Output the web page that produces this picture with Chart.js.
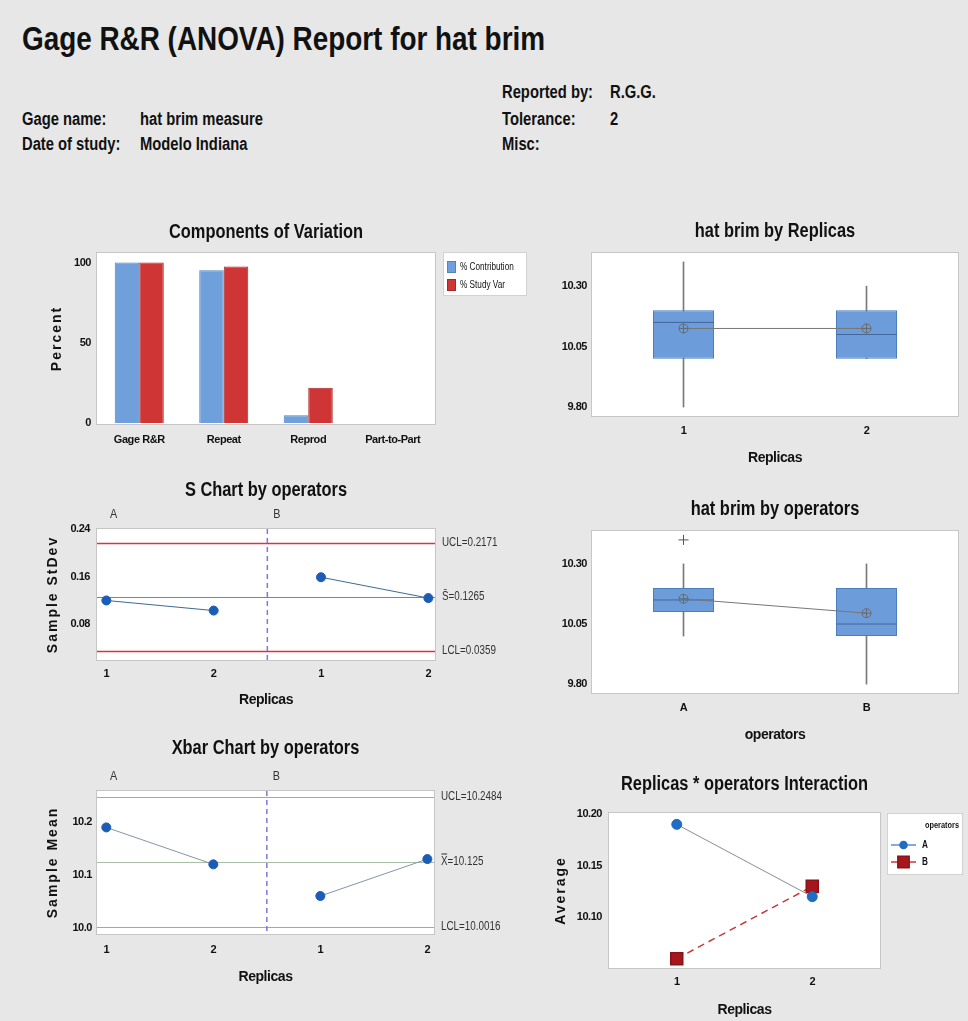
<!DOCTYPE html>
<html>
<head>
<meta charset="utf-8">
<script src="https://cdn.jsdelivr.net/npm/chart.js@4.4.1/dist/chart.umd.min.js"></script>
<style>
  html, body { margin: 0; padding: 0; }
  body {
    width: 968px; height: 1021px; position: relative; overflow: hidden;
    background: #e7e7e7; color: #111;
    font-family: "Liberation Sans", Arial, sans-serif;
  }
  h1, .hd { transform: scaleX(0.82); transform-origin: 0 0; }
  h1 {
    position: absolute; left: 22px; top: 21px; margin: 0;
    font-size: 34px; line-height: 34px; font-weight: bold; white-space: nowrap;
  }
  .hd { position: absolute; font-size: 18px; line-height: 18px; font-weight: bold; white-space: nowrap; }
  canvas { position: absolute; }
</style>
</head>
<body>
<h1>Gage R&amp;R (ANOVA) Report for hat brim</h1>
<div class="hd" style="left:22px;top:110px">Gage name:</div>
<div class="hd" style="left:140px;top:110px">hat brim measure</div>
<div class="hd" style="left:22px;top:135px">Date of study:</div>
<div class="hd" style="left:140px;top:135px">Modelo Indiana</div>
<div class="hd" style="left:502px;top:83px">Reported by:</div>
<div class="hd" style="left:610px;top:83px">R.G.G.</div>
<div class="hd" style="left:502px;top:110px">Tolerance:</div>
<div class="hd" style="left:610px;top:110px">2</div>
<div class="hd" style="left:502px;top:135px">Misc:</div>

<script>
// ---- Components of variation ----
const components = ['Gage R&R', 'Repeat', 'Reprod', 'Part-to-Part'];
const pctContribution = [100, 95.2, 4.8, 0];
const pctStudyVar = [100, 97.6, 21.9, 0];
const percentTicks = [0, 50, 100];

// ---- hat brim by Replicas (box summaries) ----
const replicas = ['1', '2'];
const replicaQ1 = [10.00, 10.00];
const replicaQ3 = [10.20, 10.20];
const replicaMedian = [10.15, 10.10];
const replicaMean = [10.125, 10.125];
const replicaMin = [9.80, 10.00];
const replicaMax = [10.40, 10.30];
const replicaOutliers = [null, null];

// ---- hat brim by operators (box summaries) ----
const operators = ['A', 'B'];
const operatorQ1 = [10.10, 10.00];
const operatorQ3 = [10.20, 10.20];
const operatorMedian = [10.15, 10.05];
const operatorMean = [10.155, 10.095];
const operatorMin = [10.00, 9.80];
const operatorMax = [10.30, 10.30];
const operatorOutliers = [10.40, null];
const hatBrimTicks = [9.80, 10.05, 10.30];

// ---- S and Xbar charts by operators ----
const sampleOperator = ['A', 'A', 'B', 'B'];
const sampleReplica = ['1', '2', '1', '2'];
const sampleStDev = [0.120, 0.103, 0.159, 0.124];
const sampleMean = [10.19, 10.12, 10.06, 10.13];
const sUCL = 0.2171, sCenter = 0.1265, sLCL = 0.0359;
const xUCL = 10.2484, xCenter = 10.125, xLCL = 10.0016;
const stdevTicks = [0.08, 0.16, 0.24];
const meanTicks = [10.0, 10.1, 10.2];

// ---- Replicas * operators interaction ----
const interactionA = [10.19, 10.12];
const interactionB = [10.06, 10.13];
const averageTicks = [10.10, 10.15, 10.20];

// ------------------------------------------------------------------
const FONT = '"Liberation Sans", Arial, sans-serif';
const SQUEEZE = 0.82;                       // horizontal squeeze for a narrow look
const TICK_FONT = { family: FONT, size: 11, weight: 'bold' };
const AXIS_FONT = { family: FONT, size: 14, weight: 'bold' };

Chart.defaults.font.family = FONT;
Chart.defaults.color = '#111';
Chart.defaults.animation = false;
Chart.defaults.events = [];
Chart.defaults.plugins.legend.display = false;
Chart.defaults.plugins.tooltip.enabled = false;

function narrowText(ctx, text, x, y, sx) {
  ctx.save();
  ctx.translate(x, y);
  ctx.scale(sx, 1);
  ctx.fillText(text, 0, 0);
  ctx.restore();
}

// tighter letter spacing for the library-drawn tick labels and axis titles
const tightText = {
  id: 'tightText',
  beforeDraw(chart) { chart.ctx.letterSpacing = '-0.45px'; },
  afterDraw(chart) { chart.ctx.letterSpacing = '0px'; }
};

// white plot panel, panel title and spaced vertical axis title
const panelText = {
  id: 'panelText',
  beforeDraw(chart) {
    const { ctx, chartArea: a } = chart;
    ctx.save();
    ctx.fillStyle = '#ffffff';
    ctx.fillRect(a.left, a.top, a.width, a.height);
    ctx.strokeStyle = '#c6c6c6';
    ctx.lineWidth = 1;
    ctx.strokeRect(Math.round(a.left) - 0.5, Math.round(a.top) - 0.5, Math.round(a.width) + 1, Math.round(a.height) + 1);
    ctx.restore();
  },
  afterDraw(chart, args, o) {
    const { ctx, chartArea: a } = chart;
    ctx.save();
    ctx.letterSpacing = '0px';
    ctx.fillStyle = '#111';
    ctx.textAlign = 'center';
    ctx.textBaseline = 'middle';
    if (o.title) {
      ctx.font = 'bold 20px ' + FONT;
      narrowText(ctx, o.title, (a.left + a.right) / 2, a.top - o.titleGap, SQUEEZE);
    }
    if (o.yTitle) {
      ctx.translate(a.left - o.yTitleGap, (a.top + a.bottom) / 2);
      ctx.rotate(-Math.PI / 2);
      ctx.font = 'bold 14px ' + FONT;
      ctx.letterSpacing = '2px';
      ctx.fillText(o.yTitle, 0, 0);
    }
    ctx.restore();
  }
};

// control limits, operator divider and group labels
const controlChart = {
  id: 'controlChart',
  beforeDatasetsDraw(chart, args, o) {
    if (!o.lines) return;
    const { ctx, chartArea: a, scales: { x, y } } = chart;
    ctx.save();
    for (const l of o.lines) {
      const py = Math.round(y.getPixelForValue(l.value)) + 0.5;
      ctx.strokeStyle = l.color;
      ctx.lineWidth = l.width;
      ctx.beginPath(); ctx.moveTo(a.left, py); ctx.lineTo(a.right, py); ctx.stroke();
    }
    ctx.setLineDash([5, 4]);
    ctx.strokeStyle = '#8a72d8';
    ctx.lineWidth = 1.5;
    for (const d of o.dividers) {
      const px = x.getPixelForValue(d);
      ctx.beginPath(); ctx.moveTo(px, a.top); ctx.lineTo(px, a.bottom); ctx.stroke();
    }
    ctx.restore();
  },
  afterDraw(chart, args, o) {
    if (!o.lines) return;
    const { ctx, chartArea: a, scales: { x, y } } = chart;
    ctx.save();
    ctx.letterSpacing = '0px';
    ctx.fillStyle = '#333';
    ctx.font = '12px ' + FONT;
    ctx.textAlign = 'left';
    ctx.textBaseline = 'middle';
    for (const l of o.lines) {
      if (l.label) narrowText(ctx, l.label, a.right + 7, y.getPixelForValue(l.value), SQUEEZE);
    }
    const starts = [a.left].concat(o.dividers.map(d => x.getPixelForValue(d)));
    o.groups.forEach((g, i) => narrowText(ctx, g, starts[i] + (i === 0 ? 13 : 6), a.top - 14, 0.9));
    ctx.restore();
  }
};

// boxed legend built from the datasets
const boxLegend = {
  id: 'boxLegend',
  afterDraw(chart, args, o) {
    if (!o.w) return;
    const { ctx, chartArea: a } = chart;
    const bx = a.right + o.gap, by = a.top + o.dy;
    ctx.save();
    ctx.letterSpacing = '0px';
    ctx.fillStyle = '#ffffff';
    ctx.fillRect(bx, by, o.w, o.h);
    ctx.strokeStyle = '#d2d2d2';
    ctx.lineWidth = 1;
    ctx.strokeRect(bx + 0.5, by + 0.5, o.w - 1, o.h - 1);
    ctx.textBaseline = 'middle';
    if (o.heading) {
      ctx.fillStyle = '#111';
      ctx.font = 'bold 9px ' + FONT;
      ctx.textAlign = 'right';
      narrowText(ctx, o.heading, bx + o.w - 4, by + 13, SQUEEZE);
    }
    ctx.textAlign = 'left';
    chart.data.datasets.forEach((ds, i) => {
      const cy = by + o.firstRow + i * o.rowGap;
      if (o.kind === 'swatch') {
        ctx.fillStyle = ds.backgroundColor;
        ctx.fillRect(bx + 4, cy - 6, 9, 12);
        ctx.strokeStyle = ds.borderColor;
        ctx.strokeRect(bx + 4.5, cy - 5.5, 8, 11);
        ctx.fillStyle = '#111';
        ctx.font = '10px ' + FONT;
        narrowText(ctx, ds.label, bx + 17, cy, SQUEEZE);
      } else {
        ctx.save();
        ctx.strokeStyle = ds.legendLine || ds.borderColor;
        ctx.lineWidth = 1.5;
        ctx.beginPath(); ctx.moveTo(bx + 4, cy); ctx.lineTo(bx + 29, cy); ctx.stroke();
        ctx.fillStyle = ds.pointBackgroundColor;
        ctx.strokeStyle = ds.pointBorderColor;
        Chart.helpers.drawPoint(ctx, { pointStyle: ds.pointStyle, radius: ds.legendRadius, rotation: 0, borderWidth: 1 }, bx + 16.5, cy);
        ctx.restore();
        ctx.fillStyle = '#111';
        ctx.font = 'bold 10px ' + FONT;
        narrowText(ctx, ds.label, bx + 35, cy, SQUEEZE);
      }
    });
    ctx.restore();
  }
};

Chart.register(tightText, panelText, controlChart, boxLegend);

// canvas placement: outer box and the plot rectangle inside it (page pixels)
function frame(box, plot) {
  const c = document.createElement('canvas');
  c.width = box.w; c.height = box.h;
  c.style.left = box.left + 'px'; c.style.top = box.top + 'px';
  document.body.appendChild(c);
  return {
    canvas: c,
    layout: {
      autoPadding: false,
      padding: { left: 0, top: plot.top - box.top, right: box.left + box.w - plot.right, bottom: 0 }
    },
    yWidth: plot.left - box.left,
    xHeight: box.top + box.h - plot.bottom
  };
}

function yAxis(f, min, max, ticks, digits, pad) {
  return {
    type: 'linear', min, max,
    grid: { display: false, drawTicks: false }, border: { display: false },
    afterBuildTicks: s => { s.ticks = ticks.map(v => ({ value: v })); },
    afterFit: s => { s.width = f.yWidth; },
    ticks: { padding: pad, font: TICK_FONT, color: '#111', callback: v => Number(v).toFixed(digits) }
  };
}

function xAxisCommon(f, pad, title, titlePad) {
  return {
    grid: { display: false, drawTicks: false }, border: { display: false },
    afterFit: s => { s.height = f.xHeight; },
    ticks: { padding: pad, font: TICK_FONT, color: '#111', maxRotation: 0, autoSkip: false },
    title: title ? { display: true, text: title, font: AXIS_FONT, color: '#111', padding: { top: 0, bottom: titlePad } } : { display: false }
  };
}

// ---------------- Components of Variation ----------------
(function () {
  const f = frame({ left: 20, top: 205, w: 520, h: 255 }, { left: 97, top: 253, right: 435, bottom: 424 });
  new Chart(f.canvas, {
    type: 'bar',
    data: {
      labels: components,
      datasets: [
        { label: '% Contribution', data: pctContribution, backgroundColor: '#6fa0dc', borderColor: '#5283c2', borderWidth: 1 },
        { label: '% Study Var', data: pctStudyVar, backgroundColor: '#cf3535', borderColor: '#a92626', borderWidth: 1 }
      ]
    },
    options: {
      responsive: false,
      layout: f.layout,
      datasets: { bar: { categoryPercentage: 0.58, barPercentage: 1 } },
      scales: {
        x: Object.assign({ type: 'category', offset: true }, xAxisCommon(f, 9, null, 0)),
        y: yAxis(f, -0.7, 106, percentTicks, 0, 6)
      },
      plugins: {
        panelText: { title: 'Components of Variation', titleGap: 21, yTitle: 'Percent', yTitleGap: 40 },
        boxLegend: { kind: 'swatch', gap: 8, dy: -1, w: 84, h: 44, firstRow: 15, rowGap: 18 }
      }
    }
  });
})();

// ---------------- box plots ----------------
function boxChart(box, plot, cats, q1, q3, med, mean, lo, hi, outliers, title, xTitle, titlePad, tickPad) {
  const f = frame(box, plot);
  new Chart(f.canvas, {
    type: 'bar',
    data: {
      labels: cats,
      datasets: [
        { type: 'bar', data: cats.map((c, i) => [lo[i], hi[i]]), barThickness: 1, grouped: false, backgroundColor: '#7a7a7a', order: 6 },
        { type: 'bar', data: cats.map((c, i) => [q1[i], q3[i]]), grouped: false, barPercentage: 1, categoryPercentage: 1 / 3,
          backgroundColor: '#6c9cd9', borderColor: '#4c7dbf', borderWidth: 1, borderSkipped: false, order: 5 },
        { type: 'line', data: med, showLine: false, pointStyle: 'line', pointRadius: 30.5,
          pointBorderColor: '#44679a', pointBorderWidth: 1, order: 4 },
        { type: 'line', data: mean, borderColor: '#777777', borderWidth: 1, pointStyle: 'circle', pointRadius: 4.5,
          pointBackgroundColor: 'rgba(0,0,0,0)', pointBorderColor: '#6a6a6a', pointBorderWidth: 1, order: 3 },
        { type: 'line', data: mean, showLine: false, pointStyle: 'cross', pointRadius: 4.5,
          pointBorderColor: '#6a6a6a', pointBorderWidth: 1, order: 2 },
        { type: 'line', data: outliers, showLine: false, pointStyle: 'cross', pointRadius: 5,
          pointBorderColor: '#555555', pointBorderWidth: 1, order: 1 }
      ]
    },
    options: {
      responsive: false,
      layout: f.layout,
      scales: {
        x: Object.assign({ type: 'category', offset: true }, xAxisCommon(f, tickPad, xTitle, titlePad)),
        y: yAxis(f, 9.763, 10.437, hatBrimTicks, 2, 5)
      },
      plugins: { panelText: { title: title, titleGap: 22 } }
    }
  });
}

boxChart({ left: 540, top: 205, w: 428, h: 270 }, { left: 592, top: 253, right: 958, bottom: 416 },
  replicas, replicaQ1, replicaQ3, replicaMedian, replicaMean, replicaMin, replicaMax, replicaOutliers,
  'hat brim by Replicas', 'Replicas', 8, 8.5);

boxChart({ left: 540, top: 485, w: 428, h: 270 }, { left: 592, top: 531, right: 958, bottom: 693 },
  operators, operatorQ1, operatorQ3, operatorMedian, operatorMean, operatorMin, operatorMax, operatorOutliers,
  'hat brim by operators', 'operators', 11, 8);

// ---------------- control charts by operator ----------------
function byOperator(values) {
  return operators.map(op => ({
    label: op,
    data: values.map((v, i) => ({ x: i, y: v })).filter((p, i) => sampleOperator[i] === op)
  }));
}
const dividers = operators.slice(1).map(op => sampleOperator.indexOf(op) - 0.5);

function controlPanel(box, plot, values, yMin, yMax, ticks, digits, tickPadY, lines, lineColor, title, yTitle, titleGap, tickPadX, titlePad) {
  const f = frame(box, plot);
  const ds = byOperator(values).map(d => Object.assign(d, {
    borderColor: lineColor, borderWidth: 1, pointRadius: 4.5,
    pointBackgroundColor: '#1b5cb6', pointBorderColor: '#1b5cb6'
  }));
  new Chart(f.canvas, {
    type: 'line',
    data: { datasets: ds },
    options: {
      responsive: false,
      layout: f.layout,
      scales: {
        x: Object.assign({
          type: 'linear', min: -0.087, max: sampleReplica.length - 1 + 0.062,
          afterBuildTicks: s => { s.ticks = sampleReplica.map((r, i) => ({ value: i })); }
        }, xAxisCommon(f, tickPadX, 'Replicas', titlePad), {
          ticks: { padding: tickPadX, font: TICK_FONT, color: '#111', maxRotation: 0, autoSkip: false, callback: v => sampleReplica[v] }
        }),
        y: yAxis(f, yMin, yMax, ticks, digits, tickPadY)
      },
      plugins: {
        panelText: { title: title, titleGap: titleGap, yTitle: yTitle, yTitleGap: 44 },
        controlChart: { lines: lines, dividers: dividers, groups: operators }
      }
    }
  });
}

controlPanel({ left: 20, top: 470, w: 520, h: 245 }, { left: 97, top: 529, right: 435, bottom: 660 },
  sampleStDev, 0.02, 0.24, stdevTicks, 2, 7,
  [
    { value: sUCL, color: '#e0303e', width: 1.5, label: 'UCL=' + sUCL },
    { value: sCenter, color: '#45ad4f', width: 1, label: 'S\u0304=' + sCenter },
    { value: sLCL, color: '#e0303e', width: 1.5, label: 'LCL=' + sLCL }
  ],
  '#3c6a94', 'S Chart by operators', 'Sample StDev', 39, 7, 6);

controlPanel({ left: 20, top: 725, w: 520, h: 270 }, { left: 97, top: 791, right: 434, bottom: 934 },
  sampleMean, 9.988, 10.259, meanTicks, 1, 5,
  [
    { value: xUCL, color: '#e58a90', width: 1, label: 'UCL=' + xUCL },
    { value: xCenter, color: '#a9bfa6', width: 1, label: 'X\u033F=' + xCenter },
    { value: xLCL, color: '#e58a90', width: 1, label: 'LCL=' + xLCL }
  ],
  '#8596ab', 'Xbar Chart by operators', 'Sample Mean', 43, 9, 9);

// ---------------- interaction plot ----------------
(function () {
  const f = frame({ left: 540, top: 755, w: 428, h: 266 }, { left: 609, top: 813, right: 880, bottom: 968 });
  new Chart(f.canvas, {
    type: 'line',
    data: {
      labels: replicas,
      datasets: [
        { label: 'A', data: interactionA, borderColor: '#8d8d8d', legendLine: '#5d8fd0', borderWidth: 1,
          pointStyle: 'circle', pointRadius: 5, legendRadius: 3.5,
          pointBackgroundColor: '#1f6dc5', pointBorderColor: '#1f6dc5' },
        { label: 'B', data: interactionB, borderColor: '#c23a3c', borderWidth: 1.5, borderDash: [7, 5],
          pointStyle: 'rect', pointRadius: 8.5, legendRadius: 8,
          pointBackgroundColor: '#a5171d', pointBorderColor: '#8b1217' }
      ]
    },
    options: {
      responsive: false,
      layout: f.layout,
      scales: {
        x: Object.assign({ type: 'category', offset: true }, xAxisCommon(f, 7.5, 'Replicas', 2)),
        y: yAxis(f, 10.051, 10.201, averageTicks, 2, 7)
      },
      plugins: {
        panelText: { title: 'Replicas * operators Interaction', titleGap: 29, yTitle: 'Average', yTitleGap: 48 },
        boxLegend: { kind: 'series', heading: 'operators', gap: 7, dy: 0, w: 76, h: 62, firstRow: 32, rowGap: 17 }
      }
    }
  });
})();
</script>
</body>
</html>
